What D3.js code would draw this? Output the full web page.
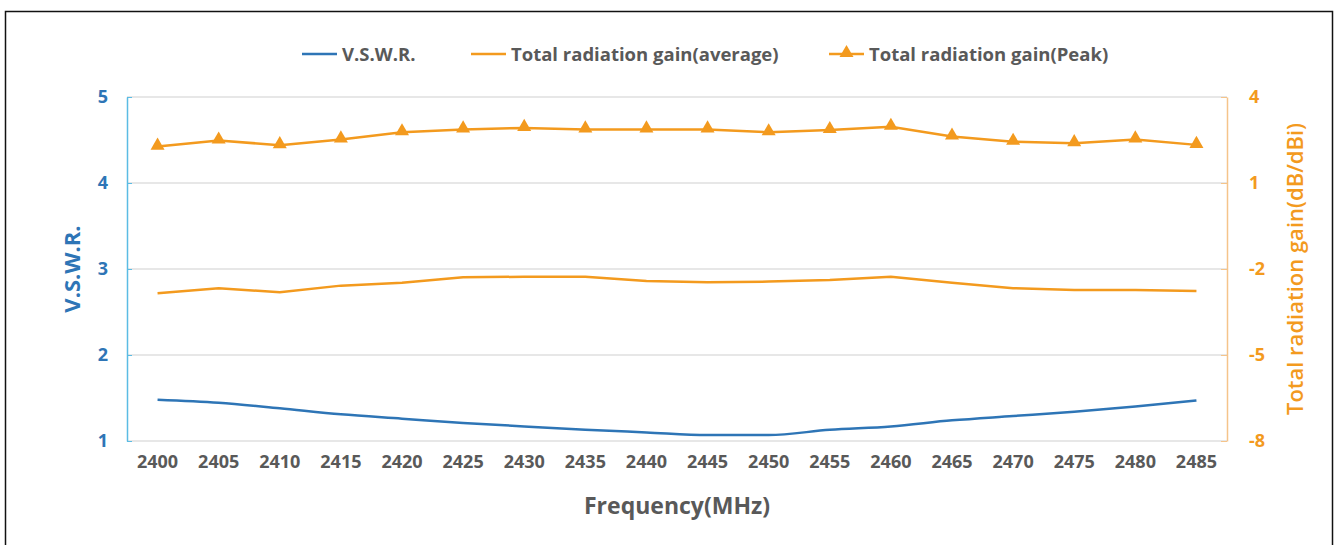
<!DOCTYPE html>
<html lang="en">
<head>
<meta charset="UTF-8">
<title>VSWR and gain</title>
<script src="https://d3js.org/d3.v7.min.js"></script>
<style>
  body { margin: 0; background: #fff; }
  text { font-family: "Open Sans", sans-serif; font-weight: bold; }
</style>
</head>
<body>
<div class="canvas"></div>
<script>
  // data
  const freqs = [2400, 2405, 2410, 2415, 2420, 2425, 2430, 2435, 2440, 2445, 2450, 2455, 2460, 2465, 2470, 2475, 2480, 2485]
  const vswr = [1.48, 1.445, 1.38, 1.31, 1.26, 1.21, 1.17, 1.13, 1.10, 1.07, 1.07, 1.13, 1.17, 1.24, 1.29, 1.34, 1.40, 1.47]
  const gainAvg = [-2.85, -2.67, -2.81, -2.58, -2.48, -2.29, -2.27, -2.27, -2.42, -2.46, -2.44, -2.38, -2.27, -2.48, -2.67, -2.73, -2.73, -2.77]
  const gainPeak = [2.27, 2.48, 2.32, 2.52, 2.77, 2.87, 2.92, 2.87, 2.87, 2.87, 2.77, 2.85, 2.96, 2.62, 2.44, 2.39, 2.52, 2.33]
  const leftTicks = [1, 2, 3, 4, 5]
  const rightTicks = [-8, -5, -2, 1, 4]

  const W = 1338, H = 545
  const blue = '#2e75b6', orange = '#f39a1e', gray = '#595959'
  const font = '"Open Sans", sans-serif'

  const svg = d3.select('.canvas')
    .append('svg')
    .attr('width', W)
    .attr('height', H)

  // outer frame
  svg.append('rect')
    .attr('x', 5.5).attr('y', 11.5)
    .attr('width', 1327).attr('height', 545)
    .attr('fill', 'none')
    .attr('stroke', '#111')
    .attr('stroke-width', 1.5)

  const pLeft = 127, pRight = 1227, pTop = 97, pBottom = 441

  const x = d3.scaleBand()
    .domain(freqs)
    .range([pLeft, pRight])
  const yL = d3.scaleLinear().domain([1, 5]).range([pBottom, pTop])
  const yR = d3.scaleLinear().domain([-8, 4]).range([pBottom, pTop])
  const cx = d => x(d) + x.bandwidth() / 2

  // grid lines
  svg.append('g')
    .selectAll('line')
    .data(leftTicks)
    .enter()
    .append('line')
    .attr('x1', pLeft).attr('x2', pRight)
    .attr('y1', d => yL(d)).attr('y2', d => yL(d))
    .attr('stroke', '#d0d0d0')
    .attr('stroke-width', 1.2)

  // left axis
  const gl = svg.append('g').attr('transform', `translate(${pLeft},0)`)
    .call(d3.axisLeft(yL).tickValues(leftTicks).tickFormat(d => String(d))
      .tickSizeInner(-5).tickSizeOuter(0).tickPadding(19))
  gl.select('.domain').attr('stroke', '#5bbce4').attr('stroke-width', 1.5)
  gl.selectAll('.tick line').attr('stroke', '#5bbce4')
  gl.selectAll('.tick text').attr('fill', blue).attr('font-size', 18).attr('font-family', font).attr('font-weight', 'bold')

  // right axis
  const gr = svg.append('g').attr('transform', `translate(${pRight},0)`)
    .call(d3.axisRight(yR).tickValues(rightTicks).tickFormat(d => String(d))
      .tickSizeInner(-6).tickSizeOuter(0).tickPadding(22))
  gr.select('.domain').attr('stroke', '#f5c48a').attr('stroke-width', 1.5)
  gr.selectAll('.tick line').attr('stroke', '#f5c48a')
  gr.selectAll('.tick text').attr('fill', orange).attr('font-size', 18).attr('font-family', font).attr('font-weight', 'bold')

  // bottom axis (labels only)
  const gb = svg.append('g').attr('transform', `translate(0,${pBottom})`)
    .call(d3.axisBottom(x).tickSize(0).tickPadding(14))
  gb.select('.domain').remove()
  gb.selectAll('.tick text').attr('fill', gray).attr('font-size', 18).attr('font-family', font).attr('font-weight', 'bold')

  // axis titles
  svg.append('text')
    .attr('transform', `translate(80,${(pTop + pBottom) / 2}) rotate(-90)`)
    .attr('text-anchor', 'middle')
    .attr('fill', blue)
    .attr('font-size', 22)
    .text('V.S.W.R.')
  svg.append('text')
    .attr('transform', `translate(1303,${(pTop + pBottom) / 2}) rotate(-90)`)
    .attr('text-anchor', 'middle')
    .attr('fill', orange)
    .attr('font-size', 22)
    .style('font-weight', '600')
    .text('Total radiation gain(dB/dBi)')
  svg.append('text')
    .attr('x', 677).attr('y', 514)
    .attr('text-anchor', 'middle')
    .attr('fill', gray)
    .attr('font-size', 23)
    .text('Frequency(MHz)')

  // lines
  const lineL = d3.line().x((d, i) => cx(freqs[i])).y(d => yL(d)).curve(d3.curveMonotoneX)
  const lineR = d3.line().x((d, i) => cx(freqs[i])).y(d => yR(d))

  svg.append('path').datum(vswr)
    .attr('d', lineL).attr('fill', 'none')
    .attr('stroke', blue).attr('stroke-width', 2.5)
  svg.append('path').datum(gainAvg)
    .attr('d', lineR).attr('fill', 'none')
    .attr('stroke', orange).attr('stroke-width', 2.5)
  svg.append('path').datum(gainPeak)
    .attr('d', lineR).attr('fill', 'none')
    .attr('stroke', orange).attr('stroke-width', 2.5)

  const tri = d3.symbol().type(d3.symbolTriangle).size(85)
  svg.append('g')
    .selectAll('path')
    .data(gainPeak)
    .enter()
    .append('path')
    .attr('d', tri)
    .attr('transform', (d, i) => `translate(${cx(freqs[i])},${yR(d) - 1})`)
    .attr('fill', orange)

  // legend
  const legend = [
    { label: 'V.S.W.R.', color: blue, x: 302, marker: false },
    { label: 'Total radiation gain(average)', color: orange, x: 471, marker: false },
    { label: 'Total radiation gain(Peak)', color: orange, x: 829, marker: true }
  ]
  const lg = svg.append('g').attr('transform', 'translate(0,54)')
  legend.forEach(l => {
    lg.append('line')
      .attr('x1', l.x).attr('x2', l.x + 35)
      .attr('stroke', l.color).attr('stroke-width', 2.5)
    if (l.marker) {
      lg.append('path').attr('d', tri).attr('transform', `translate(${l.x + 17.5},-1)`).attr('fill', l.color)
    }
    lg.append('text')
      .attr('x', l.x + 40).attr('y', 6.5)
      .attr('fill', gray)
      .attr('font-size', 18.5)
      .text(l.label)
  })
</script>
</body>
</html>
